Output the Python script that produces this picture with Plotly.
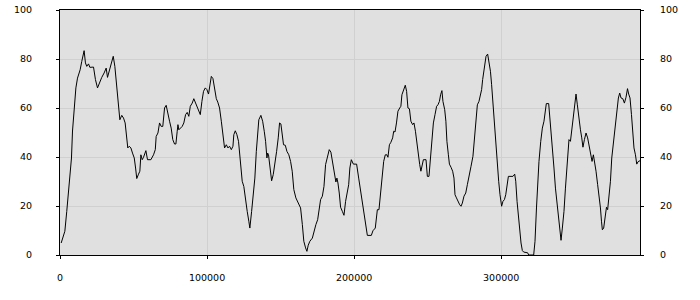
import plotly.graph_objects as go

# x positions (in units) and values
x_values = [
    800, 2400, 3300, 4600, 6200, 7800, 8500, 9600, 10800, 11900, 13700, 14800, 15500, 16400, 17300,
    18200, 19400, 20300, 22800, 24100, 25500, 27100, 28400, 30000, 31400, 32300, 33900, 35200, 36200,
    37300, 38000, 38600, 39600, 40700, 42000, 43200, 44300, 45200, 46100, 47100, 48200, 49300, 50500,
    51400, 52200, 53400, 54300, 55000, 55900, 56800, 58400, 59500, 61800, 63600, 64800,
    65400, 66600, 67700, 68800, 69900, 71100, 72200, 73300, 74500, 75600, 76700, 77900, 78800, 79700,
    80200, 80800, 82000, 83100, 84200, 85400, 86500, 87600, 88600, 89900, 91000, 92200, 93300, 94400,
    95400, 96500, 97600, 98800, 99900, 101000, 101900, 102900, 104000, 105100, 106300, 107300, 108500,
    109700, 110800, 111900, 113100, 114200, 115300, 116500, 117600, 118200, 119200, 120300, 121400,
    122800, 123900, 125000, 126200, 127300, 128400, 129100,
    130300, 131400, 132500, 133500, 134400, 135200, 136600, 137800, 138900, 139800, 140700, 141200,
    141800, 142700, 143900, 145000, 146100, 147300, 148400, 149300, 150200, 151200, 152000, 153200,
    154300, 155600, 156800, 157900, 159000, 160400, 162000, 163600, 164800, 165800, 167000, 167900,
    168800, 169900, 171600, 172700, 174000, 175200, 176300, 177200, 178400, 179500, 180600, 182000,
    183100, 184200, 185400, 186500, 187600, 188300, 189000, 189900, 190800, 192000, 193100, 194200,
    195400,
    196300, 197100, 198100, 199500, 201700, 203100, 204400, 205800, 207100, 208000, 209000, 211700,
    212800, 214400, 215800, 216900, 217800, 218900, 220100, 221200, 222300, 223000, 224000, 225000,
    226200, 226900, 227800, 228800, 229800, 231000, 231800, 232500, 233700, 234800, 235700, 236600,
    237600, 238600, 239800, 240700, 241700, 242700, 243900, 244600, 245400, 246100, 247100, 248900,
    249800, 250900, 251800, 252700, 253900, 255000, 256100, 257000, 258000, 258800, 259700, 260400,
    261600, 262400,
    263100, 264100, 264800, 265900, 267000, 267900, 268600, 269600, 270200, 270900, 271800, 272700,
    273600, 274700, 275900, 277000, 278100, 279500, 280800, 282000, 282900, 283800, 284900, 285900,
    286700, 287400, 288300, 289000, 289700, 290800, 291700, 292700, 293500, 294400, 295600, 296500,
    297400, 298300, 299200, 300300, 301200, 302200, 303100, 304000, 304900, 306700, 308000, 309200,
    309900, 310800, 311700, 312600, 313500, 314400, 315300, 318000, 318700, 322100, 323000, 324000,
    324800, 325700, 326900, 328000,
    329100, 330000, 330700, 332300, 333200, 334100, 335000, 335900, 336900, 337800, 338600, 339600,
    340700, 341600, 342700, 343700, 344600, 345400, 346100, 347100, 348200, 349100, 350000, 350900,
    351800, 352700, 353900, 354800, 355600, 356600, 357700, 358800, 360000, 361100, 361800, 362700,
    363600, 364500, 365600, 366500, 367500, 368200, 368800, 369700, 370600, 371600, 372400, 373300,
    374300, 375200, 376100, 377000, 377900, 378800, 379700, 380600, 381500, 382700, 383800, 384900,
    385900, 386700, 387600, 388600, 389500, 390300, 391300, 392200, 393100, 394400,
]

y_values = [
    4.9, 8.3, 9.7, 17.8, 27.3, 39.6, 50.6, 60, 68.2, 72.2, 75.6, 79, 81, 83.4, 78.4,
    77, 78, 76.6, 76.7, 71.6, 68.2, 70.9, 72.5, 74.3, 76.3, 72.5, 75.6, 79, 81.1,
    77, 72.2, 66.8, 60, 55.2, 57, 55.9, 53.9, 47.8, 43.7, 44.4, 43.7, 41.6, 39.6,
    35.5, 31.2, 33, 34.2, 40.9, 38.9, 39.9, 42.6, 38.9, 38.9, 40.9, 43,
    48.4, 49.8, 53.9, 52.5, 52.5, 60, 61.1, 57.3, 54.6, 51.8, 47.1, 45.3, 45.3, 50.5,
    53.2, 51.1, 51.8, 52.5, 53.9, 57.3, 58.2, 56.6, 60.7, 62, 63.8, 62, 60.3, 58,
    57.3, 62.7, 66.8, 68.2, 67.5, 65.7, 69.5, 72.9, 72, 68.2, 63.8, 62.4, 60,
    54.6, 49.1, 43.7, 45, 43.7, 44.4, 43, 44.4, 49.1, 50.7, 49.1, 46.4,
    38.2, 30.1, 28, 21.9, 17.8, 13.8, 11,
    17.8, 24.6, 31.4, 42.3, 50.5, 55.2, 57, 54.6, 50.5, 46.4, 39.6, 41.6,
    40.9, 35.5, 30.3, 32.8, 36.9, 42.3, 47.8, 53.9, 53.5, 48.4, 45, 44.8,
    42.3, 40.9, 38.2, 34.2, 26.7, 23.3, 21.2, 19.2, 12.4, 5.6, 2.9, 1.5,
    4, 5.6, 6.9, 9.7, 12.4, 14.4, 18.5, 22.6, 24, 28, 36.9, 40.9,
    43, 42, 38.2, 34.2, 29.8, 31.4, 29.4, 25.3, 19.5, 17.8, 16.2, 21.9,
    26.2,
    28.7, 35.5, 38.9, 37.1, 37.1, 31.4, 26, 20.5, 15.1, 11, 8, 8,
    9.9, 11, 18.5, 18.5, 24.6, 31.4, 38.2, 40.9, 40.9, 39.9, 45, 46,
    47.8, 50.5, 50.2, 53.9, 58.7, 60, 60.7, 65.4, 67.5, 69.3, 66.8, 60,
    59.7, 54.6, 53.2, 53.9, 50.5, 45, 40.3, 36.9, 34.2, 36.9, 38.9, 38.9,
    32.1, 32.1, 38.9, 46.4, 53.9, 57.3, 60.7, 61.3, 62.7, 65.4, 67.1, 62.7,
    59.3, 54.6,
    46.4, 40.9, 37.1, 35.8, 34.2, 31.4, 24.6, 23.3, 22.6, 21.2, 20.5, 19.9,
    21.2, 24, 25.3, 28.7, 32.8, 36.2, 40.3, 47.8, 54.6, 61.3, 62.7, 64.8,
    67.5, 71.6, 75.6, 79, 81.1, 82, 79.3, 75, 69.5, 61.3, 53.2, 46.4,
    38.2, 30.1, 24.6, 19.9, 21.9, 22.6, 24.6, 28.7, 32.1, 32.1, 32.1, 33,
    30.1, 21.9, 15.1, 9.7, 4.9, 1.8, 1.2, 0.9, 0, 0, 5.6, 19.2,
    30.1, 38.2, 46.4, 51.8,
    54.6, 58.7, 61.8, 61.8, 55.9, 49.1, 42.3, 35.5, 27.3, 21.9, 16.4, 11,
    6, 11, 17.8, 27.3, 35.5, 43.7, 47.1, 46.4, 51.8, 57.3, 62.7, 65.7,
    61.3, 55.9, 51.1, 47.8, 44, 47.1, 49.8, 47.8, 43.7, 39.9, 38.2, 40.9,
    38.2, 34.2, 28.7, 24.6, 19.2, 13.8, 10.3, 11, 14.4, 19.5, 18.5, 23.3,
    30.1, 39.6, 45, 50.5, 55.9, 60, 64.1, 66.1, 64.1, 63.8, 62, 64.4,
    67.9, 65.7, 64.1, 57.3, 50.5, 43.7, 40.9, 37.1, 38.1, 38.5,
]

x_range = [0, 394400]
y_range = [0, 100]
x_tick_step = 100000
y_tick_step = 20

font = dict(family="DejaVu Sans", size=9.5, color="black")

fig = go.Figure()
fig.add_trace(go.Scatter(
    x=x_values, y=y_values, mode="lines",
    line=dict(color="black", width=1),
    showlegend=False, hoverinfo="skip",
))
# invisible trace so the right-hand axis is drawn
fig.add_trace(go.Scatter(
    x=[x_values[0]], y=[y_values[0]], mode="markers", yaxis="y2",
    marker=dict(opacity=0), showlegend=False, hoverinfo="skip",
))

axis_common = dict(
    showline=True, linecolor="black", linewidth=1,
    ticks="outside", ticklen=3, tickwidth=1, tickcolor="black",
    zeroline=False, tickfont=font, automargin=False,
)

fig.update_layout(
    width=700, height=300,
    margin=dict(l=60, r=60, t=10, b=45),
    paper_bgcolor="white",
    plot_bgcolor="#e0e0e0",
    font=font,
    xaxis=dict(
        range=x_range, tick0=0, dtick=x_tick_step, tickformat="d",
        showgrid=True, gridcolor="#d0d0d0", gridwidth=1,
        mirror=True, ticklabelstandoff=11, **axis_common,
    ),
    yaxis=dict(
        range=y_range, tick0=0, dtick=y_tick_step,
        showgrid=True, gridcolor="#d0d0d0", gridwidth=1,
        ticklabelstandoff=22, **axis_common,
    ),
    yaxis2=dict(
        range=y_range, tick0=0, dtick=y_tick_step, overlaying="y", side="right",
        showgrid=False, ticklabelstandoff=14, **axis_common,
    ),
)

fig.write_html("out.html")
